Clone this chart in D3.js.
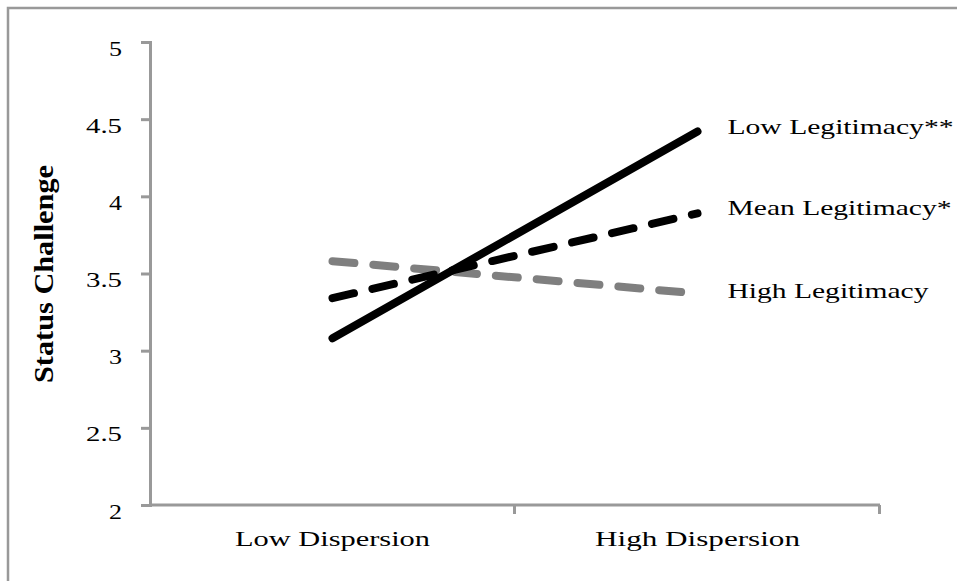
<!DOCTYPE html>
<html>
<head>
<meta charset="utf-8">
<script src="https://cdn.jsdelivr.net/npm/d3@7"></script>
<style>
  body { margin: 0; background: #fff; }
  svg { display: block; }
  text { font-family: "Liberation Serif", "DejaVu Serif", serif; fill: #000; }
</style>
</head>
<body>
<div class="chart"></div>
<script>
const width = 957;
const height = 581;

// data
const categories = ["Low Dispersion", "High Dispersion"];
const seriesNames = ["Low Legitimacy**", "Mean Legitimacy*", "High Legitimacy"];
const lowLegitimacy = [3.08, 4.42];
const meanLegitimacy = [3.34, 3.89];
const highLegitimacy = [3.58, 3.37];
const yTicks = [2, 2.5, 3, 3.5, 4, 4.5, 5];

const series = [
  { name: seriesNames[0], values: lowLegitimacy, color: "#000", dash: null, labelW: 226 },
  { name: seriesNames[1], values: meanLegitimacy, color: "#000", dash: "22,19", labelW: 224 },
  { name: seriesNames[2], values: highLegitimacy, color: "#7f7f7f", dash: "22,19", labelW: 201 },
];

const axisColor = "#999";

let svg = d3
  .select(".chart")
  .append("svg")
  .attr("width", width)
  .attr("height", height);

// outer frame (only top and left edges show in the crop)
svg
  .append("rect")
  .attr("x", 8)
  .attr("y", 8)
  .attr("width", width + 20)
  .attr("height", height + 20)
  .attr("fill", "none")
  .attr("stroke", "#999")
  .attr("stroke-width", 2.5);

let xScale = d3.scaleBand().domain(categories).range([150, 880]).padding(0);
let yScale = d3.scaleLinear().domain([2, 5]).range([505, 42]);

// y axis
let yAxis = d3.axisLeft(yScale).tickValues(yTicks).tickSize(9).tickFormat((d) => d);
let gy = svg.append("g").attr("transform", "translate(150,0)").call(yAxis);
gy.select(".domain").attr("stroke", axisColor).attr("stroke-width", 3);
gy.selectAll(".tick line").attr("stroke", axisColor).attr("stroke-width", 3);
gy.selectAll(".tick text")
  .attr("x", -28)
  .attr("dy", 13)
  .attr("font-size", 21)
  .attr("font-family", "Liberation Serif")
  .attr("fill", "#000")
  .attr("textLength", (d) => (String(d).length > 1 ? 36 : 13))
  .attr("lengthAdjust", "spacingAndGlyphs");

// x axis: ticks sit between categories
let xEdges = [xScale.range()[0]].concat(categories.map((c) => xScale(c) + xScale.bandwidth()));
svg
  .append("line")
  .attr("x1", 150)
  .attr("x2", 880)
  .attr("y1", 505)
  .attr("y2", 505)
  .attr("stroke", axisColor)
  .attr("stroke-width", 3);
svg
  .append("g")
  .selectAll("line")
  .data(xEdges.slice(1))
  .enter()
  .append("line")
  .attr("x1", (d) => d - 0.5)
  .attr("x2", (d) => d - 0.5)
  .attr("y1", 505)
  .attr("y2", 514)
  .attr("stroke", axisColor)
  .attr("stroke-width", 3);

let catWidths = [195, 205];
svg
  .append("g")
  .selectAll("text")
  .data(categories)
  .enter()
  .append("text")
  .attr("x", (d) => xScale(d) + xScale.bandwidth() / 2)
  .attr("y", 546)
  .attr("text-anchor", "middle")
  .attr("font-size", 21)
  .attr("textLength", (d, i) => catWidths[i])
  .attr("lengthAdjust", "spacingAndGlyphs")
  .text((d) => d);

// y axis title
svg
  .append("text")
  .text("Status Challenge")
  .attr("transform", "translate(53,274) rotate(-90)")
  .attr("text-anchor", "middle")
  .attr("font-size", 27)
  .attr("font-weight", "bold")
  .attr("textLength", 218)
  .attr("lengthAdjust", "spacingAndGlyphs");

// lines
let line = d3
  .line()
  .x((d, i) => xScale(categories[i]) + xScale.bandwidth() / 2)
  .y((d) => yScale(d));

// draw in reverse so the solid line sits on top
let drawOrder = series.slice().reverse();
svg
  .append("g")
  .selectAll("path")
  .data(drawOrder)
  .enter()
  .append("path")
  .attr("d", (d) => line(d.values))
  .attr("fill", "none")
  .attr("stroke", (d) => d.color)
  .attr("stroke-width", 8)
  .attr("stroke-linecap", "round")
  .attr("stroke-dasharray", (d) => d.dash);

// series labels at line ends
svg
  .append("g")
  .selectAll("text")
  .data(series)
  .enter()
  .append("text")
  .attr("x", xScale(categories[1]) + xScale.bandwidth() / 2 + 30)
  .attr("y", (d) => yScale(d.values[1]) + (d.name === seriesNames[2] ? 4 : 2))
  .attr("font-size", 21)
  .attr("textLength", (d) => d.labelW)
  .attr("lengthAdjust", "spacingAndGlyphs")
  .text((d) => d.name);
</script>
</body>
</html>
